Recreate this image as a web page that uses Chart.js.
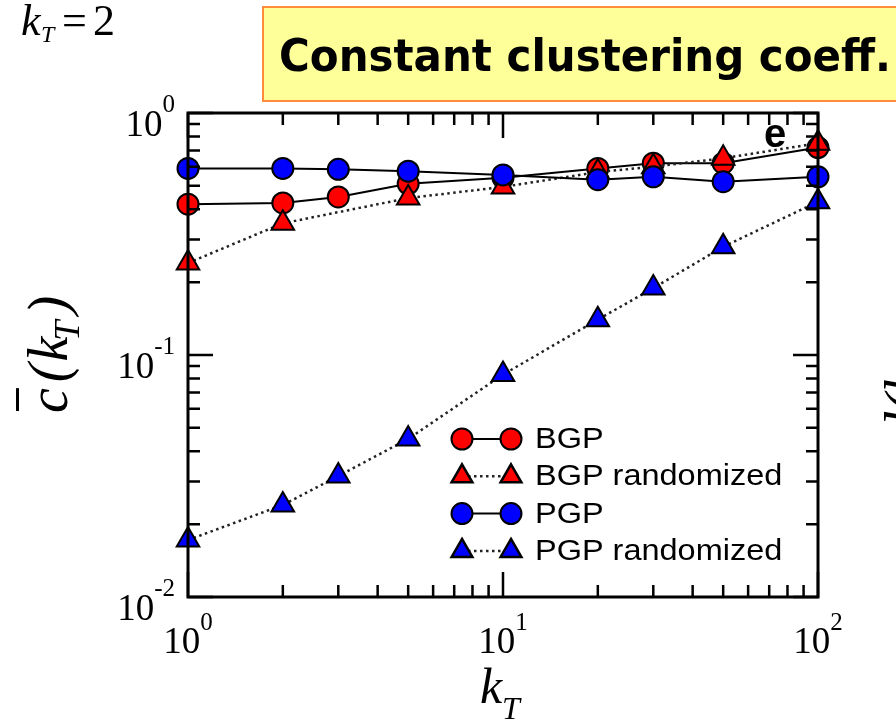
<!DOCTYPE html>
<html>
<head>
<meta charset="utf-8">
<script src="https://cdn.jsdelivr.net/npm/chart.js@4"></script>
<style>
  body { margin: 0; background: #fff; }
  canvas { display: block; }
</style>
</head>
<body>
<canvas id="chart" width="896" height="720"></canvas>
<script>
// values (log-log axes)
const kT = [1, 2, 3, 5, 10, 20, 30, 50, 100];
const bgp = [0.42, 0.425, 0.45, 0.51, 0.54, 0.59, 0.62, 0.62, 0.72];
const bgpRandomized = [0.24, 0.35, null, 0.445, 0.495, 0.57, 0.60, 0.65, 0.75];
const pgp = [0.59, 0.59, 0.585, 0.575, 0.555, 0.53, 0.545, 0.52, 0.545];
const pgpRandomized = [0.0172, 0.024, 0.0316, 0.045, 0.083, 0.14, 0.189, 0.28, 0.43];

const xMajor = [1, 10, 100];
const yMajor = [0.01, 0.1, 1];
const xExp = ['0', '1', '2'];
const yExp = ['-2', '-1', '0'];

const toPoints = vals => kT.map((k, i) => ({ x: k, y: vals[i] }));

const serif = "'Liberation Serif', 'DejaVu Serif', serif";
const sans = "'Liberation Sans', Arial, sans-serif";

function series(label, vals, shape, fill, dotted, order) {
    return {
        label: label,
        data: toPoints(vals),
        borderColor: dotted ? '#222' : '#000',
        borderWidth: dotted ? 2.5 : 2,
        borderDash: dotted ? [2.5, 3.5] : [],
        pointStyle: shape,
        pointRadius: shape === 'triangle' ? 13 : 10.5,
        pointHoverRadius: shape === 'triangle' ? 13 : 10.5,
        pointBackgroundColor: fill,
        pointBorderColor: '#000',
        pointBorderWidth: 2,
        fill: false,
        tension: 0,
        spanGaps: true,
        clip: false,
        order: order
    };
}

// ticks, labels, titles and legend drawn on top of the data
const decorations = {
    id: 'decorations',
    afterDatasetsDraw(chart) {
        const ctx = chart.ctx;
        const a = chart.chartArea;
        const xs = chart.scales.x, ys = chart.scales.y;
        ctx.save();
        ctx.strokeStyle = '#000';
        ctx.fillStyle = '#000';
        ctx.lineWidth = 2.5;
        ctx.setLineDash([]);

        // minor + major ticks, inward on all four sides
        const xTicks = [], yTicks = [];
        for (let d = 1; d <= 10; d *= 10) for (let m = 1; m <= 9; m++) xTicks.push(m * d);
        xTicks.push(100);
        for (let d = 0.01; d <= 0.1; d *= 10) for (let m = 1; m <= 9; m++) yTicks.push(+(m * d).toFixed(3));
        yTicks.push(1);
        ctx.beginPath();
        xTicks.forEach(v => {
            const x = xs.getPixelForValue(v);
            const len = xMajor.includes(v) ? 25 : 12;
            ctx.moveTo(x, a.bottom); ctx.lineTo(x, a.bottom - len);
            ctx.moveTo(x, a.top); ctx.lineTo(x, a.top + len);
        });
        yTicks.forEach(v => {
            const y = ys.getPixelForValue(v);
            const len = yMajor.some(m => Math.abs(m - v) < 1e-9) ? 25 : 12;
            ctx.moveTo(a.left, y); ctx.lineTo(a.left + len, y);
            ctx.moveTo(a.right, y); ctx.lineTo(a.right - len, y);
        });
        ctx.stroke();
        ctx.lineWidth = 3;
        ctx.strokeRect(a.left, a.top, a.right - a.left, a.bottom - a.top);

        // tick labels as 10^n
        const baseFont = '37px ' + serif, expFont = '25px ' + serif;
        ctx.textBaseline = 'alphabetic';
        xMajor.forEach((v, i) => {
            ctx.font = baseFont;
            const w1 = ctx.measureText('10').width;
            ctx.font = expFont;
            const w2 = ctx.measureText(xExp[i]).width;
            const x0 = xs.getPixelForValue(v) - (w1 + w2) / 2;
            ctx.textAlign = 'left';
            ctx.font = baseFont; ctx.fillText('10', x0, 653);
            ctx.font = expFont; ctx.fillText(xExp[i], x0 + w1, 630);
        });
        yMajor.forEach((v, i) => {
            const y = ys.getPixelForValue(v);
            ctx.font = expFont;
            const w2 = ctx.measureText(yExp[i]).width;
            ctx.textAlign = 'right';
            ctx.fillText(yExp[i], 175, y - 1);
            ctx.font = baseFont;
            ctx.fillText('10', 175 - w2, y + 23);
        });

        // x axis title k_T
        ctx.textAlign = 'left';
        ctx.font = 'italic 50px ' + serif;
        ctx.fillText('k', 480, 703);
        ctx.font = 'italic 32px ' + serif;
        ctx.fillText('T', 502, 719);

        // y axis title c(k_T) with bar, rotated
        ctx.save();
        ctx.translate(67, 413);
        ctx.rotate(-Math.PI / 2);
        ctx.font = 'italic 56px ' + serif;
        let px = 0;
        ctx.fillText('c', px, 0);
        const cw = ctx.measureText('c').width;
        ctx.fillRect(px + 2, -51, cw - 2, 3);
        px += cw + 6;
        ctx.fillText('(', px, 0); px += ctx.measureText('(').width + 2;
        ctx.fillText('k', px, 0); px += ctx.measureText('k').width;
        ctx.font = 'italic 36px ' + serif;
        ctx.fillText('T', px - 4, 12); px += ctx.measureText('T').width;
        ctx.font = 'italic 56px ' + serif;
        ctx.fillText(')', px + 2, 0);
        ctx.restore();

        // panel letter
        ctx.font = 'bold 40px ' + sans;
        ctx.textAlign = 'center';
        ctx.fillText('e', 775, 147);

        // legend with marker-line-marker samples
        chart.data.datasets.forEach((ds, i) => {
            const y = 439 + i * 37.3;
            ctx.save();
            ctx.strokeStyle = ds.borderColor;
            ctx.lineWidth = ds.borderWidth;
            ctx.setLineDash(ds.borderDash);
            ctx.beginPath();
            ctx.moveTo(462, y); ctx.lineTo(511, y);
            ctx.stroke();
            ctx.setLineDash([]);
            ctx.fillStyle = ds.pointBackgroundColor;
            ctx.strokeStyle = '#000';
            const r = ds.pointStyle === 'triangle' ? 12 : 10.5;
            [462, 511].forEach(x => Chart.helpers.drawPoint(ctx, {
                pointStyle: ds.pointStyle, radius: r, rotation: 0, borderWidth: 2
            }, x, y));
            ctx.restore();
            ctx.save();
            ctx.font = '29px ' + sans;
            ctx.textAlign = 'left';
            ctx.textBaseline = 'middle';
            ctx.translate(535, y + 1);
            ctx.scale(1.12, 1);
            ctx.fillText(ds.label, 0, 0);
            ctx.restore();
        });

        // header: k_T = 2 and the yellow note
        ctx.textAlign = 'left';
        ctx.textBaseline = 'alphabetic';
        ctx.font = 'italic 44px ' + serif;
        ctx.fillText('k', 21, 35);
        ctx.font = 'italic 24px ' + serif;
        ctx.fillText('T', 41, 42);
        ctx.font = '44px ' + serif;
        ctx.fillText('=', 62, 35);
        ctx.fillText('2', 93, 35);

        ctx.fillStyle = '#ffff99';
        ctx.fillRect(263, 7, 700, 94);
        ctx.strokeStyle = '#ff8c3c';
        ctx.lineWidth = 2;
        ctx.strokeRect(263, 7, 700, 94);
        ctx.fillStyle = '#000';
        ctx.font = "bold 44px 'DejaVu Sans', sans-serif";
        ctx.fillText('Constant clustering coeff.', 279, 71, 612);

        // edge of the neighbouring panel's axis title, mostly off-canvas
        ctx.save();
        ctx.translate(924, 440);
        ctx.rotate(-Math.PI / 2);
        ctx.font = 'italic 56px ' + serif;
        ctx.fillText('d(k', 0, 0);
        ctx.restore();
        ctx.restore();
    }
};

new Chart(document.getElementById('chart').getContext('2d'), {
    type: 'line',
    data: {
        datasets: [
            series('BGP', bgp, 'circle', '#ff0000', false, 4),
            series('BGP randomized', bgpRandomized, 'triangle', '#ff0000', true, 3),
            series('PGP', pgp, 'circle', '#0000ff', false, 2),
            series('PGP randomized', pgpRandomized, 'triangle', '#0000ff', true, 1)
        ]
    },
    options: {
        responsive: false,
        animation: false,
        devicePixelRatio: 1,
        layout: { padding: { top: 113, right: 78, left: 0, bottom: 0 } },
        plugins: {
            legend: { display: false },
            tooltip: { enabled: false }
        },
        scales: {
            x: {
                type: 'logarithmic', min: 1, max: 100,
                ticks: { display: false },
                grid: { display: false },
                border: { display: false },
                afterFit: s => { s.height = 123; }
            },
            y: {
                type: 'logarithmic', min: 0.01, max: 1,
                ticks: { display: false },
                grid: { display: false },
                border: { display: false },
                afterFit: s => { s.width = 188; }
            }
        }
    },
    plugins: [decorations]
});
</script>
</body>
</html>
